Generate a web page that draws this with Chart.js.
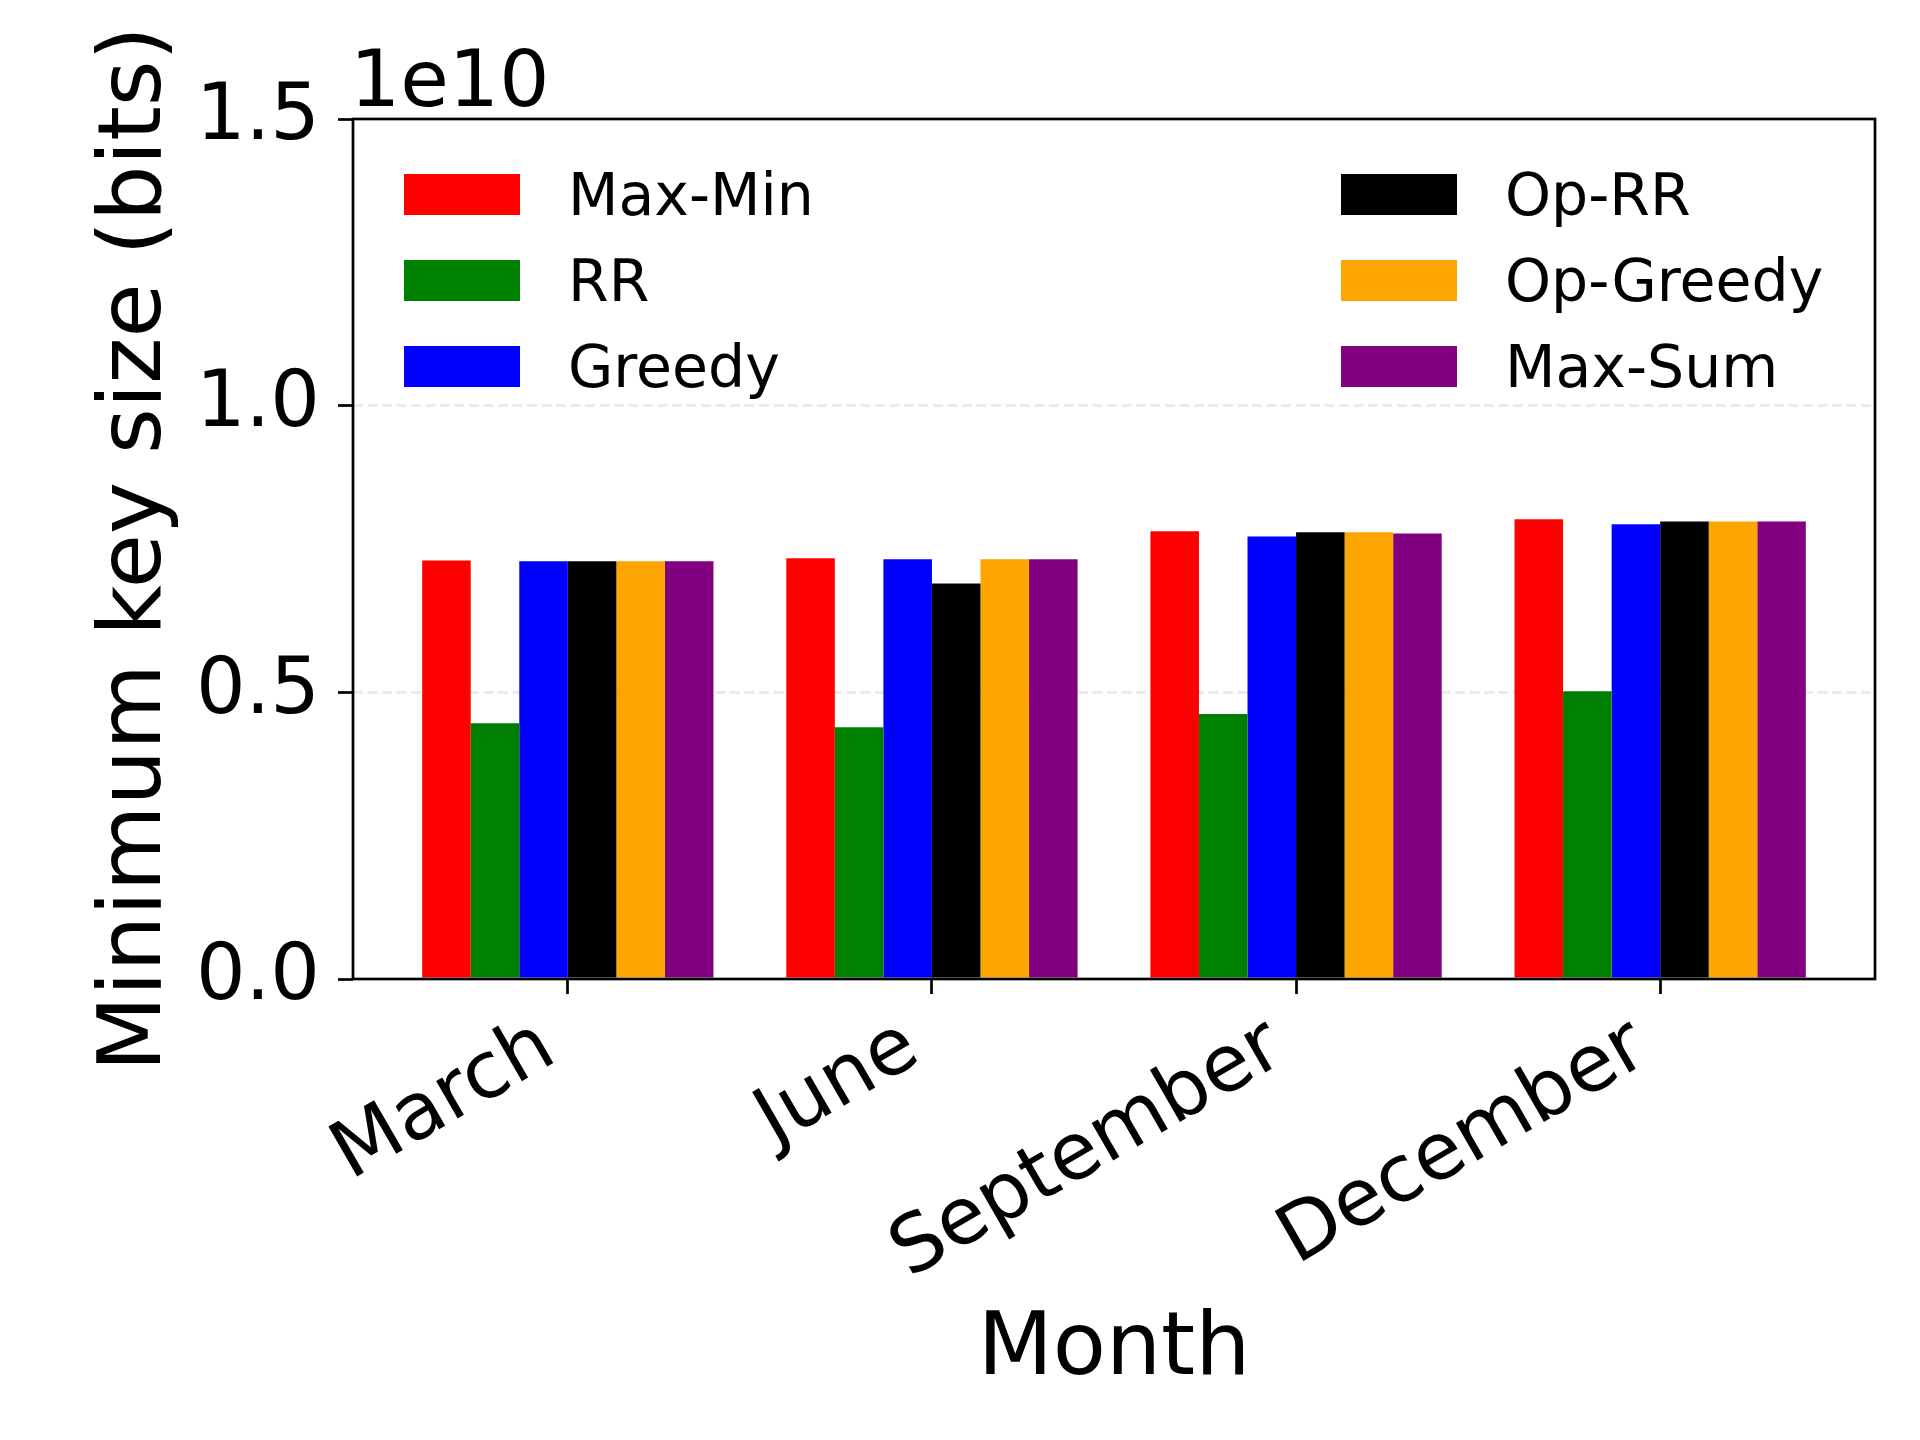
<!DOCTYPE html>
<html>
<head>
<meta charset="utf-8">
<script src="https://cdn.jsdelivr.net/npm/chart.js@4.4.1/dist/chart.umd.min.js"></script>
<style>
html,body{margin:0;padding:0;background:#fff;}
#wrap{width:1920px;height:1440px;}
</style>
</head>
<body>
<div id="wrap"><canvas id="c" width="1920" height="1440"></canvas></div>
<script>
// ---- data ----
const categories = ['March', 'June', 'September', 'December'];
const seriesNames = ['Max-Min', 'RR', 'Greedy', 'Op-RR', 'Op-Greedy', 'Max-Sum'];
const maxMinValues   = [7.30e9, 7.34e9, 7.81e9, 8.02e9];
const rrValues       = [4.46e9, 4.39e9, 4.62e9, 5.02e9];
const greedyValues   = [7.285e9, 7.32e9, 7.72e9, 7.93e9];
const opRrValues     = [7.285e9, 6.90e9, 7.79e9, 7.98e9];
const opGreedyValues = [7.285e9, 7.32e9, 7.79e9, 7.98e9];
const maxSumValues   = [7.285e9, 7.32e9, 7.77e9, 7.98e9];
const seriesValues = [maxMinValues, rrValues, greedyValues, opRrValues, opGreedyValues, maxSumValues];
const seriesColors = ['#ff0000', '#008000', '#0000ff', '#000000', '#ffa500', '#800080'];
const yTickValues = [0, 0.5e10, 1.0e10, 1.5e10];
const yTickLabels = ['0.0', '0.5', '1.0', '1.5'];
const offsetLabel = '1e10';
const xTitle = 'Month';
const yTitle = 'Minimum key size (bits)';

const FONT = '"DejaVu Sans"';
Chart.defaults.font.family = 'DejaVu Sans';
Chart.defaults.color = '#000';

const framePlugin = {
  id: 'frameAndLegend',
  afterDraw(chart) {
    const ctx = chart.ctx;
    const a = chart.chartArea;
    ctx.save();
    ctx.strokeStyle = '#000';
    ctx.lineWidth = 2.7;
    ctx.strokeRect(a.left, a.top, a.right - a.left, a.bottom - a.top);
    // offset text
    ctx.fillStyle = '#000';
    ctx.font = '79px ' + FONT;
    ctx.textAlign = 'left';
    ctx.textBaseline = 'alphabetic';
    ctx.fillText(offsetLabel, a.left - 3, a.top - 13);
    // legend (2 columns, column-major)
    ctx.font = '58.5px ' + FONT;
    ctx.textBaseline = 'middle';
    chart.data.datasets.forEach((ds, i) => {
      const col = Math.floor(i / 3), row = i % 3;
      const bx = col === 0 ? a.left + 51 : a.left + 988;
      const by = a.top + 55 + row * 86;
      ctx.fillStyle = ds.backgroundColor;
      ctx.fillRect(bx, by, 116, 41);
      ctx.fillStyle = '#000';
      ctx.fillText(ds.label, bx + 164, by + 26);
    });
    ctx.restore();
  }
};

new Chart(document.getElementById('c'), {
  type: 'bar',
  data: {
    datasets: seriesNames.map((name, i) => ({
      label: name,
      data: seriesValues[i].map((v, j) => ({ x: j, y: v })),
      backgroundColor: seriesColors[i],
      borderWidth: 0,
      categoryPercentage: 0.8,
      barPercentage: 1.0
    }))
  },
  options: {
    responsive: false,
    animation: false,
    devicePixelRatio: 1,
    layout: { padding: { left: 0, top: 119, right: 45, bottom: 0 } },
    plugins: { legend: { display: false }, tooltip: { enabled: false } },
    scales: {
      x: {
        type: 'linear',
        offset: false,
        bounds: 'data',
        min: -0.59,
        max: 3.59,
        afterBuildTicks: s => { s.ticks = categories.map((_, i) => ({ value: i })); },
        afterFit: s => { s.height = 461; },
        grid: { offset: false, drawOnChartArea: false, drawTicks: true, tickLength: 15, tickWidth: 2.7, tickColor: '#000', color: '#000' },
        border: { display: false },
        ticks: {
          autoSkip: false, minRotation: 30, maxRotation: 30, padding: 7, labelOffset: -19,
          font: { size: 79 }, color: '#000',
          callback: (v) => categories[v]
        },
        title: { display: true, text: xTitle, font: { size: 87 }, color: '#000', padding: { top: 0, bottom: 36 } }
      },
      y: {
        min: 0,
        max: 1.5e10,
        z: 1,
        afterBuildTicks: s => { s.ticks = yTickValues.map(v => ({ value: v })); },
        afterFit: s => { s.width = 353; },
        grid: {
          color: c => (c.tick && c.tick.value > 0 && c.tick.value < 1.5e10) ? 'rgba(170,170,170,0.235)' : 'rgba(0,0,0,0)',
          lineWidth: 3, tickLength: 15, tickWidth: 2.7, tickColor: '#000'
        },
        border: { display: false, dash: [10, 4.5] },
        ticks: { padding: 18, font: { size: 78 }, color: '#000', callback: (v, i) => yTickLabels[i] },
        title: { display: true, text: yTitle, font: { size: 88 }, color: '#000', padding: { top: 84, bottom: 0 } }
      }
    }
  },
  plugins: [framePlugin]
});
</script>
</body>
</html>
